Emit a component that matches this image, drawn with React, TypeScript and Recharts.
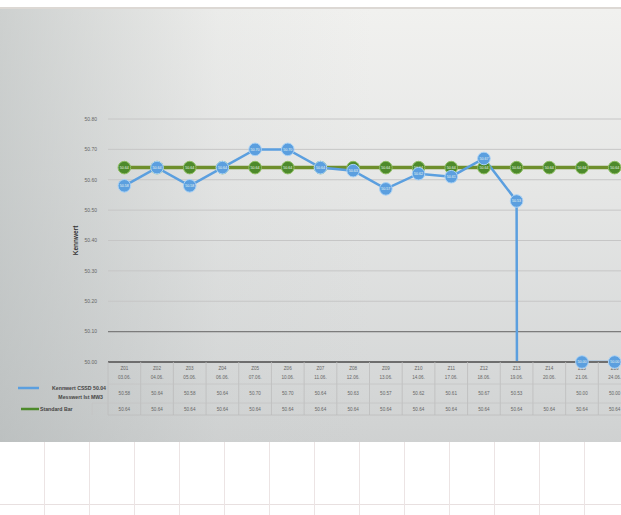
import React from "react";
import { CartesianGrid, ComposedChart, LabelList, Line, ReferenceLine, XAxis, YAxis } from "recharts";

// column headers of the data table (two lines each)
const categories = ["Z01", "Z02", "Z03", "Z04", "Z05", "Z06", "Z07", "Z08", "Z09", "Z10", "Z11", "Z12", "Z13", "Z14", "Z15", "Z16"];
const subLabels = ["03.06.", "04.06.", "05.06.", "06.06.", "07.06.", "10.06.", "11.06.", "12.06.", "13.06.", "14.06.", "17.06.", "18.06.", "19.06.", "20.06.", "21.06.", "24.06."];

// measured values (null = no value, drawn as zero like the original)
const measured: (number | null)[] = [50.58, 50.64, 50.58, 50.64, 50.7, 50.7, 50.64, 50.63, 50.57, 50.62, 50.61, 50.67, 50.53, null, 50.0, 50.0];
const standard = [50.64, 50.64, 50.64, 50.64, 50.64, 50.64, 50.64, 50.64, 50.64, 50.64, 50.64, 50.64, 50.64, 50.64, 50.64, 50.64];

const yTicks = [50.0, 50.1, 50.2, 50.3, 50.4, 50.5, 50.6, 50.7, 50.8];
const limitLine = 50.1;

const seriesNames = ["Kennwert CSSD 50.04", "Messwert Ist MW3", "Standard Bar"];
const yLabel = "Kennwert";

const chartData = categories.map((c, i) => ({
  idx: i,
  name: c,
  measured: measured[i],
  standard: standard[i],
}));

const BLUE = "#5b9fdf";
const GREEN = "#4d8a2b";
const FONT = "'Liberation Sans', Arial, sans-serif";

const fmt = (v: number | null) => (v == null ? "" : v.toFixed(2));

function TableTick(props: any) {
  const { x, y, payload } = props;
  const i = payload.value as number;
  const band = (props.width ?? 523) / categories.length;
  const left = x - band / 2;
  const right = x + band / 2;
  const txt = { fontSize: 4.6, fill: "#666", textAnchor: "middle" as const, fontFamily: FONT };
  const leg = { fontSize: 5.2, fill: "#444", fontWeight: "bold" as const, fontFamily: FONT };
  return (
    <g>
      <line x1={right} y1={y} x2={right} y2={y + 53} stroke="#bcbcbc" strokeWidth={0.8} />
      {i === 0 && <line x1={left} y1={y} x2={left} y2={y + 53} stroke="#bcbcbc" strokeWidth={0.8} />}
      <line x1={left} y1={y + 22} x2={right} y2={y + 22} stroke="#c4c4c4" strokeWidth={0.8} />
      <line x1={left} y1={y + 41} x2={right} y2={y + 41} stroke="#c4c4c4" strokeWidth={0.8} />
      <line x1={left} y1={y + 53} x2={right} y2={y + 53} stroke="#bcbcbc" strokeWidth={0.8} />
      <text x={x} y={y + 8} {...txt}>{categories[i]}</text>
      <text x={x} y={y + 17} {...txt}>{subLabels[i]}</text>
      <text x={x} y={y + 33} {...txt}>{fmt(measured[i])}</text>
      <text x={x} y={y + 49} {...txt}>{fmt(standard[i])}</text>
      {i === 0 && (
        <g>
          <line x1={left - 90} y1={y + 26} x2={left - 69} y2={y + 26} stroke={BLUE} strokeWidth={2.5} />
          <text x={left - 2} y={y + 28} {...leg} textAnchor="end">{seriesNames[0]}</text>
          <text x={left - 5} y={y + 37} {...leg} textAnchor="end">{seriesNames[1]}</text>
          <line x1={left - 87} y1={y + 47} x2={left - 69} y2={y + 47} stroke={GREEN} strokeWidth={2.5} />
          <text x={left - 68} y={y + 49} {...leg} textAnchor="start">{seriesNames[2]}</text>
          <line x1={left - 16} y1={y + 41} x2={left} y2={y + 41} stroke="#c4c4c4" strokeWidth={0.8} />
          <line x1={left - 16} y1={y + 41} x2={left - 16} y2={y + 53} stroke="#c4c4c4" strokeWidth={0.8} />
        </g>
      )}
    </g>
  );
}

// point markers, drawn as labels so they are not cut at the plot edge
function makeMarker(fill: string, ring: string) {
  return (props: any) => {
    const cx = props.viewBox?.x ?? props.x;
    const cy = props.viewBox?.y ?? props.y;
    const value = props.value;
    if (cx == null || cy == null || value == null || Number(value) < yTicks[0] - 0.05) return null;
    return (
      <g>
        <circle cx={cx} cy={cy} r={6.3} fill={fill} stroke={ring} strokeWidth={1} />
        <text x={cx} y={cy + 1.4} fontSize={3.6} fill="#eef6ee" textAnchor="middle" fontFamily={FONT}>
          {Number(value).toFixed(2)}
        </text>
      </g>
    );
  };
}

const blueMarker = makeMarker(BLUE, "#a9d2f6");
const greenMarker = makeMarker(GREEN, "#8fbf63");

export default function App() {
  return (
    <div
      style={{
        position: "absolute",
        left: 0,
        top: 0,
        width: 621,
        height: 515,
        background: "#ffffff",
        overflow: "hidden",
        fontFamily: FONT,
      }}
    >
      {/* paper grid below the chart */}
      <div
        style={{
          position: "absolute",
          left: 0,
          top: 440,
          width: 621,
          height: 75,
          backgroundImage:
            "repeating-linear-gradient(to right, transparent 0px, transparent 44px, #ece4e4 44px, #ece4e4 45px), linear-gradient(to bottom, transparent 64px, #e8e0e0 64px, #e8e0e0 65px, transparent 65px)",
        }}
      />
      {/* grey chart panel */}
      <div
        style={{
          position: "absolute",
          left: 0,
          top: 7,
          width: 621,
          height: 433,
          borderTop: "2px solid #dcd8d4",
          background:
            "linear-gradient(to right, rgba(170,176,176,0.5) 0%, rgba(200,204,204,0.15) 35%, rgba(255,255,255,0) 60%), linear-gradient(to bottom, #f1f1ef 0%, #e6e7e6 40%, #d6d8d8 85%, #cfd1d1 100%)",
        }}
      />
      <div style={{ position: "absolute", left: 0, top: 8, width: 621, height: 432, overflow: "hidden" }}>
        <ComposedChart width={640} height={432} data={chartData} margin={{ top: 111, right: 9, bottom: 25, left: 0 }}>
          <CartesianGrid vertical={false} stroke="#c6c6c6" strokeWidth={1} />
          <ReferenceLine y={limitLine} stroke="#7c7c7c" strokeWidth={1.2} />
          <XAxis
            dataKey="idx"
            type="number"
            domain={[-0.5, categories.length - 0.5]}
            ticks={categories.map((_, i) => i)}
            interval={0}
            height={53}
            tickSize={0}
            tickMargin={0}
            tickLine={false}
            axisLine={{ stroke: "#6e6e6e", strokeWidth: 2 }}
            tick={<TableTick />}
          />
          <YAxis
            type="number"
            domain={[yTicks[0], yTicks[yTicks.length - 1]]}
            ticks={yTicks}
            allowDataOverflow
            width={108}
            axisLine={false}
            tickLine={false}
            tickMargin={5}
            tickFormatter={(v) => Number(v).toFixed(2)}
            tick={{ fontSize: 5, fill: "#666", fontFamily: FONT }}
            label={{
              value: yLabel,
              angle: -90,
              position: "insideLeft",
              offset: 76,
              style: { fontSize: 6.5, fill: "#333", fontWeight: "bold", fontFamily: FONT, textAnchor: "middle" },
            }}
          />
          <Line
            dataKey="standard"
            stroke="#6e8f2c"
            strokeWidth={3.5}
            dot={false}
            activeDot={false}
            isAnimationActive={false}
          >
            <LabelList content={greenMarker} />
          </Line>
          <Line
            dataKey={(d: any) => d.measured ?? 0}
            stroke={BLUE}
            strokeWidth={2.5}
            dot={false}
            activeDot={false}
            isAnimationActive={false}
          >
            <LabelList content={blueMarker} />
          </Line>
        </ComposedChart>
      </div>
    </div>
  );
}
